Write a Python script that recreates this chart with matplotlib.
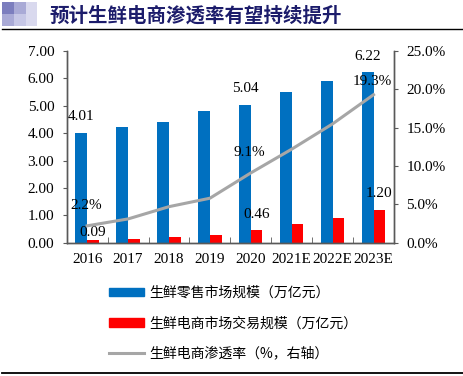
import matplotlib
matplotlib.use('Agg')
import matplotlib.pyplot as plt
from matplotlib.patches import Rectangle, Patch
from matplotlib.lines import Line2D
from matplotlib.ticker import FormatStrFormatter, FixedLocator
import numpy as np

plt.rcParams['font.family'] = ['Liberation Serif', 'Noto Sans CJK SC']

# data
years = ['2016', '2017', '2018', '2019', '2020', '2021E', '2022E', '2023E']
retail = [4.01, 4.21, 4.41, 4.82, 5.04, 5.49, 5.89, 6.22]       # 生鲜零售市场规模
ecom = [0.09, 0.12, 0.20, 0.28, 0.46, 0.67, 0.92, 1.20]         # 生鲜电商市场交易规模
penetration = [2.2, 3.1, 4.7, 5.8, 9.1, 12.2, 15.5, 19.3]      # 渗透率 %
labelled = [0, 4, 7]

title = '预计生鲜电商渗透率有望持续提升'
legend_labels = ['生鲜零售市场规模（万亿元）', '生鲜电商市场交易规模（万亿元）', '生鲜电商渗透率（%，右轴）']

BLUE = '#0070C0'
RED = '#FF0000'
GREY = '#A6A6A6'
SPINE = '#595959'
W, H = 463, 376
FS = 11

fig = plt.figure(figsize=(W / 100, H / 100), dpi=100)

# header decoration
for (x0, y0, c) in [(2, 2, '#7C7EBE'), (14, 2, '#A9AAD6'), (2, 14, '#A9AAD6'), (14, 14, '#C6C7E6')]:
    fig.add_artist(Rectangle((x0 / W, 1 - (y0 + 12) / H), 12 / W, 12 / H,
                             transform=fig.transFigure, color=c, lw=0))
fig.add_artist(Rectangle((26 / W, 1 - 26 / H), 11 / W, 24 / H,
                         transform=fig.transFigure, color='#D9D9EE', lw=0))
fig.text(50 / W, 1 - 15.5 / H, title, fontsize=14, fontweight='bold', color='#1C1C6B',
         va='center', ha='left', family='Noto Sans CJK SC')
fig.add_artist(Line2D([2 / W, 1], [1 - 28.5 / H] * 2, transform=fig.transFigure, color='black', lw=1.0))
fig.add_artist(Line2D([2 / W, 1], [1 - 373 / H] * 2, transform=fig.transFigure, color='black', lw=1.3))

ax = fig.add_axes([66.7 / W, 1 - 242.7 / H, (394 - 66.7) / W, (242.7 - 51) / H])
x = np.arange(len(years))
w = 0.285
ax.bar(x - w / 2, retail, w, color=BLUE, zorder=2)
ax.bar(x + w / 2, ecom, w, color=RED, zorder=2)
ax.set_xlim(-0.5, len(years) - 0.5)
ax.set_ylim(0, 7)
ax.set_yticks(np.arange(0, 7.01, 1))
ax.yaxis.set_major_formatter(FormatStrFormatter('%.2f'))
ax.set_xticks(x)
ax.set_xticklabels(years)
ax.xaxis.set_minor_locator(FixedLocator(np.arange(-0.5, len(years), 1)))
ax.tick_params(axis='x', which='major', length=0, pad=7.5, labelsize=FS)
ax.tick_params(axis='x', which='minor', direction='in', length=4, color=SPINE)
ax.tick_params(axis='y', length=3, pad=6, labelsize=FS, color=SPINE)

ax2 = ax.twinx()
ax2.plot(x, penetration, color=GREY, lw=2.2, zorder=3)
ax2.set_ylim(0, 25)
ax2.set_yticks(np.arange(0, 25.1, 5))
ax2.yaxis.set_major_formatter(FormatStrFormatter('%.1f%%'))
ax2.tick_params(axis='y', length=3, pad=6, labelsize=FS, color=SPINE)

for a in (ax, ax2):
    a.spines['top'].set_visible(False)
    for s in ('left', 'right', 'bottom'):
        a.spines[s].set_color(SPINE)
        a.spines[s].set_linewidth(1.0)

# value labels
for i in labelled:
    ax.annotate(f'{retail[i]:.2f}', (x[i] - w / 2, retail[i]), xytext=(0, 11.5),
                textcoords='offset points', ha='center', va='center', fontsize=FS)
    off = 5.5 if i == 0 else 11.5
    ax.annotate(f'{ecom[i]:.2f}', (x[i] + w / 2, ecom[i]), xytext=(0, off),
                textcoords='offset points', ha='center', va='center', fontsize=FS)
    off = 9.5 if i == len(years) - 1 else 14.5
    ax2.annotate(f'{penetration[i]:.1f}%', (x[i], penetration[i]), xytext=(-1, off),
                 textcoords='offset points', ha='center', va='center', fontsize=FS)

handles = [Patch(color=BLUE), Patch(color=RED), Line2D([], [], color=GREY, lw=2.2)]
fig.legend(handles, legend_labels, loc='upper left', bbox_to_anchor=(109 / W, 1 - 286 / H),
           frameon=False, prop={'family': 'Noto Sans CJK SC', 'size': 10},
           handlelength=2.5, handleheight=0.55, handletextpad=0.4, labelspacing=1.17,
           borderpad=0, borderaxespad=0)

fig.savefig('out.png', dpi=100)
